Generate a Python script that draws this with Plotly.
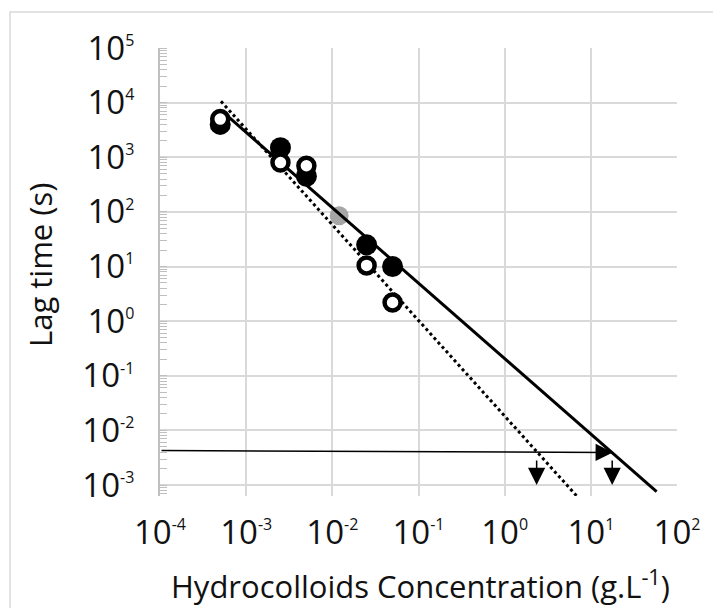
import numpy as np
import plotly.graph_objects as go

# hydrocolloid concentration (g/L) and lag time (s)
conc = [5e-4, 2.5e-3, 5e-3, 2.5e-2, 5e-2]
lag_filled = [4000, 1500, 450, 25, 10]
lag_open = [5000, 800, 700, 10.5, 2.2]
conc_gray = [1.2e-2]
lag_gray = [85]

# fitted power-law lines (end points)
solid_x = [5.4e-4, 58]
solid_y = [6700, 7.6e-4]
dotted_x = [5.1e-4, 8.9]
dotted_y = [10600, 4.0e-4]

# extrapolation guide: horizontal arrow, then drop arrows to the x axis
guide_x = [1e-4, 18]
guide_y = [4.3e-3, 3.95e-3]
drop_x = [2.35, 17.7]
drop_y = [3.0e-3, 1.0e-3]

x_ticks = [1e-4, 1e-3, 1e-2, 1e-1, 1e0, 1e1, 1e2]
y_ticks = [1e-3, 1e-2, 1e-1, 1e0, 1e1, 1e2, 1e3, 1e4, 1e5]

FONT = "Open Sans"
TXT = "#111111"


def pow_label(v):
    e = int(round(np.log10(v)))
    return f"10<sup><span style='font-size:16px'>{e}</span></sup>"


fig = go.Figure()

fig.add_trace(go.Scatter(
    x=conc_gray, y=lag_gray, mode="markers",
    marker=dict(size=19, color="#a6a6a6", line=dict(width=0)),
))
fig.add_trace(go.Scatter(
    x=solid_x, y=solid_y, mode="lines",
    line=dict(color="black", width=3),
))
fig.add_trace(go.Scatter(
    x=dotted_x, y=dotted_y, mode="lines",
    line=dict(color="black", width=3, dash="3px,3px"),
))
fig.add_trace(go.Scatter(
    x=conc, y=lag_filled, mode="markers",
    marker=dict(size=21, color="black", line=dict(width=0)),
))
fig.add_trace(go.Scatter(
    x=conc, y=lag_open, mode="markers",
    marker=dict(size=16, color="white", line=dict(width=4.5, color="black")),
))

# arrows (annotation coords are log10 on log axes)
lx = np.log10
fig.add_annotation(
    x=lx(guide_x[1]), y=lx(guide_y[1]), ax=lx(guide_x[0]), ay=lx(guide_y[0]),
    xref="x", yref="y", axref="x", ayref="y", text="",
    showarrow=True, arrowhead=2, arrowsize=2.3, arrowwidth=1.5,
    arrowcolor="black", standoff=0,
)
for dx in drop_x:
    fig.add_annotation(
        x=lx(dx), y=lx(drop_y[1]), ax=lx(dx), ay=lx(drop_y[0]),
        xref="x", yref="y", axref="x", ayref="y", text="",
        showarrow=True, arrowhead=2, arrowsize=2.3, arrowwidth=1.5,
        arrowcolor="black", standoff=0,
    )

# the page body adds an 8px margin, so lay out in page pixels minus 8
OFF = 8
W, H = 721 - OFF, 608 - OFF
L, T = 160 - OFF, 48 - OFF
R, B = W - (677 - OFF), H - (496 - OFF)
pw, ph = W - L - R, H - T - B


def px(x):
    return (x - OFF - L) / pw


def py(y):
    return (H - B - (y - OFF)) / ph


fig.add_annotation(
    text="Lag time (s)", textangle=-90, showarrow=False,
    xref="paper", yref="paper", x=px(40), y=py(265),
    xanchor="center", yanchor="middle",
    font=dict(family=FONT, size=31, color=TXT),
)
fig.add_annotation(
    text="Hydrocolloids Concentration (g.L<sup>-1</sup>)", showarrow=False,
    xref="paper", yref="paper", x=px(420), y=py(584),
    xanchor="center", yanchor="middle",
    font=dict(family=FONT, size=31, color=TXT),
)

# outer chart border
fig.add_shape(
    type="rect", xref="paper", yref="paper",
    x0=px(10), x1=px(714), y0=py(640), y1=py(12),
    line=dict(color="#d9d9d9", width=1.5), layer="below",
)

fig.update_layout(
    width=W, height=H,
    margin=dict(l=L, r=R, t=T, b=B, autoexpand=False),
    paper_bgcolor="white", plot_bgcolor="white",
    showlegend=False,
    font=dict(family=FONT, color=TXT),
    xaxis=dict(
        type="log", range=[-4, 2], automargin=False,
        tickmode="array", tickvals=x_ticks,
        ticktext=[pow_label(v) for v in x_ticks],
        tickfont=dict(size=33, color=TXT),
        ticks="outside", ticklen=7, tickcolor="rgba(0,0,0,0)",
        showgrid=True, gridcolor="#d9d9d9", gridwidth=1.5,
        showline=False, zeroline=False,
    ),
    yaxis=dict(
        type="log", range=[-3.2, 5], automargin=False,
        tickmode="array", tickvals=y_ticks,
        ticktext=[pow_label(v) for v in y_ticks],
        tickfont=dict(size=33, color=TXT),
        ticks="outside", ticklen=17, tickcolor="rgba(0,0,0,0)",
        showgrid=True, gridcolor="#d9d9d9", gridwidth=1.5,
        showline=True, linecolor="#bfbfbf", linewidth=2,
        zeroline=False,
        minor=dict(ticks="inside", ticklen=7, tickcolor="#bfbfbf",
                   tickwidth=1, dtick="D1", showgrid=False),
    ),
)

fig.write_html("out.html")
